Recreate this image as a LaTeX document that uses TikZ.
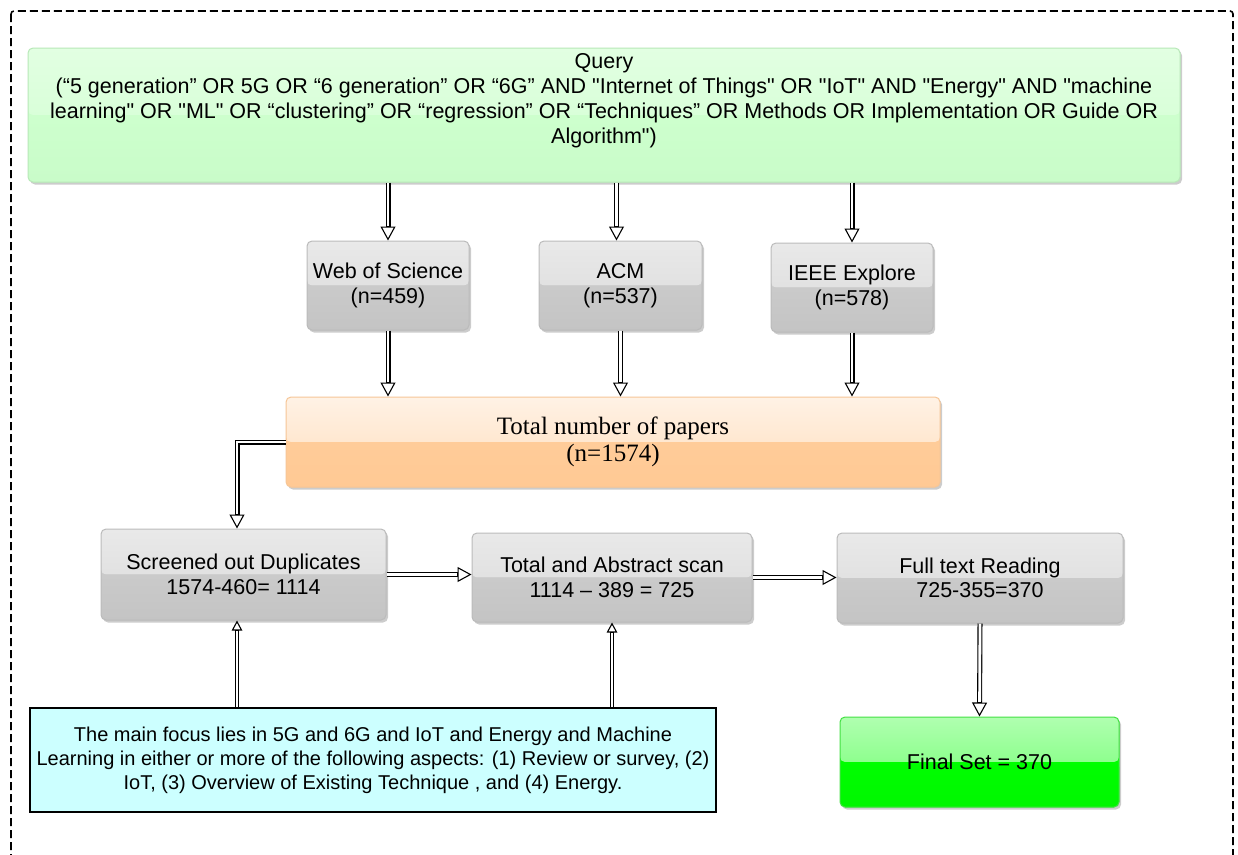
\documentclass[tikz,border=0pt]{standalone}
\usepackage{fontspec}
\setmainfont{Liberation Sans}
\newfontfamily\arialf{Liberation Sans}
\newfontfamily\serifrm{Liberation Serif}
\usetikzlibrary{arrows.meta,shadows,calc}

\definecolor{gA}{HTML}{E9E9E9}
\definecolor{gB}{HTML}{DADADA}
\definecolor{gC}{HTML}{CACACA}
\definecolor{gD}{HTML}{C4C4C4}
\definecolor{gE}{HTML}{BBBBBB}
\definecolor{qA}{HTML}{E2FFE2}
\definecolor{qB}{HTML}{D0FFD0}
\definecolor{qC}{HTML}{CDFFCD}
\definecolor{qD}{HTML}{C9FCC9}
\definecolor{qE}{HTML}{B8E8B8}
\definecolor{oA}{HTML}{FFF2E5}
\definecolor{oB}{HTML}{FFDDBB}
\definecolor{oC}{HTML}{FFCC99}
\definecolor{oD}{HTML}{FFC994}
\definecolor{oE}{HTML}{F6C697}
\definecolor{fA}{HTML}{B0FFB0}
\definecolor{fB}{HTML}{6CFF6C}
\definecolor{fC}{HTML}{00FF00}
\definecolor{fD}{HTML}{00F600}
\definecolor{fE}{HTML}{44E044}
\definecolor{cyanfill}{HTML}{CCFFFF}

\newcommand\boxfont{\arialf\fontsize{21.5}{24.5}\selectfont}
\newcommand\qfont{\arialf\fontsize{21.5}{25}\selectfont}
\newcommand\totfont{\serifrm\fontsize{25}{26.5}\selectfont}
\newcommand\cyanfont{\arialf\fontsize{20}{24}\selectfont}

\tikzset{
  gloss/.style n args={4}{path picture={
    \fill[top color=#1,bottom color=#2] (path picture bounding box.north west) rectangle (path picture bounding box.east);
    \fill[top color=#3,bottom color=#4] (path picture bounding box.west) rectangle (path picture bounding box.south east);}},
  boxbase/.style={rounded corners=5pt, inner sep=2pt, align=center, line width=1pt,
    drop shadow={shadow xshift=2pt, shadow yshift=-2.5pt, opacity=0.2, fill=black}},
  graybox/.style={boxbase, draw=gE, fill=gC, gloss={gA}{gB}{gC}{gD}, font=\boxfont},
  querybox/.style={boxbase, draw=qE, fill=qC, gloss={qA}{qB}{qC}{qD}},
  totalbox/.style={boxbase, draw=oE, fill=oC, gloss={oA}{oB}{oC}{oD}, font=\totfont},
  finalbox/.style={boxbase, draw=fE, fill=fC, gloss={fA}{fB}{fC}{fD}, font=\boxfont},
  cyanbox/.style={draw=black, line width=2.4pt, fill=cyanfill, inner sep=0pt, align=center, font=\cyanfont},
  dbl/.style={draw=black, line width=5pt,
    -{Triangle[open, length=14pt, width=15pt, line width=1.1pt]},
    postaction={draw=white, line width=2.8pt, shorten >=14.6pt, -}},
  dblup/.style={draw=black, line width=4.6pt,
    -{Triangle[open, length=10pt, width=10.5pt, line width=1.1pt]},
    postaction={draw=white, line width=2.4pt, shorten >=10.6pt, -}},
  frame/.style={draw=black, line width=1.6pt, dash pattern=on 8pt off 4pt, rounded corners=3pt},
}

\begin{document}
\begin{tikzpicture}[x=1pt,y=-1pt]
\useasboundingbox (0,0) rectangle (1238,854);
\clip (0,0) rectangle (1238,854);
\fill[white] (0,0) rectangle (1238,854);

\draw[frame] (11,11) rectangle (1233,900);

\node[querybox, minimum width=1152pt, minimum height=134pt] (query) at (604,115) {};
\node[align=center, font=\qfont, inner sep=0pt] (qtext) at (604,101) {Query\\
(“5 generation” OR 5G OR “6 generation” OR “6G” AND "Internet of Things" OR "IoT" AND "Energy" AND "machine\\
learning" OR "ML" OR “clustering” OR “regression” OR “Techniques” OR Methods OR Implementation OR Guide OR\\
Algorithm")};

\node[graybox, minimum width=162pt, minimum height=89pt] (wos) at (388,285.5) {Web of Science\\(n=459)};
\node[graybox, minimum width=163pt, minimum height=89pt] (acm) at (620.5,285.5) {ACM\\(n=537)};
\node[graybox, minimum width=162pt, minimum height=89pt] (ieee) at (852,287.5) {IEEE Explore\\(n=578)};

\node[totalbox, minimum width=654pt, minimum height=90pt] (total) at (613,442) {Total number of papers\\(n=1574)};

\node[graybox, minimum width=285pt, minimum height=91pt] (screen) at (243.5,574.5) {Screened out Duplicates\\1574-460= 1114};
\node[graybox, minimum width=280pt, minimum height=89pt] (ta) at (612,577.5) {Total and Abstract scan\\1114 – 389 = 725};
\node[graybox, minimum width=286pt, minimum height=90pt] (full) at (980,578) {Full text Reading\\725-355=370};
\node[finalbox, minimum width=279pt, minimum height=90pt] (final) at (979.5,762) {Final Set = 370};

\node[cyanbox, minimum width=686pt, minimum height=104pt] (focus) at (373,760)
  {The main focus lies in 5G and 6G and IoT and Energy and Machine\\
   Learning in either or more of the following aspects: (1) Review or survey, (2)\\
   IoT, (3) Overview of Existing Technique , and (4) Energy.};

% connectors
\draw[dbl] (query.south -| wos.north) -- (wos.north);
\draw[dbl] ([xshift=-4pt]acm.north |- query.south) -- ([xshift=-4pt]acm.north);
\draw[dbl] (query.south -| ieee.north) -- (ieee.north);

\draw[dbl] (wos.south) -- (wos.south |- total.north);
\draw[dbl] (acm.south) -- (acm.south |- total.north);
\draw[dbl] (ieee.south) -- (ieee.south |- total.north);

\coordinate (sx) at ([xshift=-6.5pt]screen.north);
\draw[dbl] (total.west) -| (sx);

\draw[dbl] (screen.east) -- (ta.west |- screen.east);
\draw[dbl] (ta.east) -- (full.west |- ta.east);
\draw[dbl] (full.south) -- (final.north);

\coordinate (sy) at ([xshift=-6.5pt]screen.south);
\draw[dblup] (focus.north -| sy) -- (sy);
\draw[dblup] (focus.north -| ta.south) -- (ta.south);

\end{tikzpicture}
\end{document}
